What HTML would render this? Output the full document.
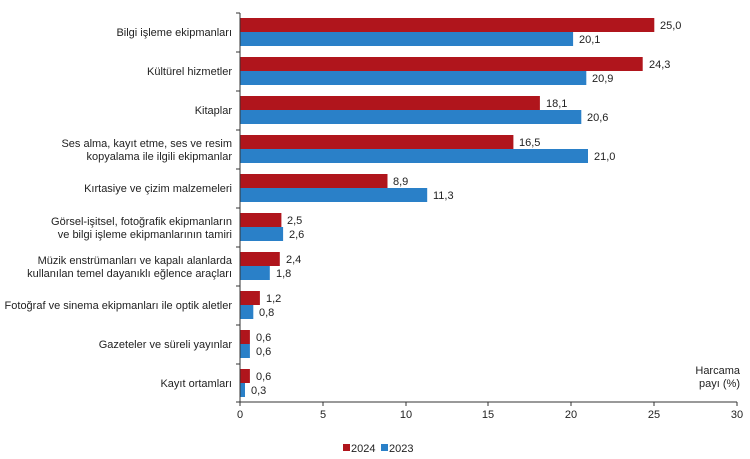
<!DOCTYPE html>
<html><head><meta charset="utf-8"><style>
body{margin:0;background:#fff;}
svg{display:block;font-family:"Liberation Sans",Arial,sans-serif;font-size:11px;fill:#222;}
</style></head><body>
<svg width="750" height="459" viewBox="0 0 750 459">
<g>
<rect x="240" y="18" width="414.3" height="14" fill="#B0151C"/><text x="660" y="29">25,0</text>
<rect x="240" y="32" width="333.1" height="14" fill="#2A80C8"/><text x="579" y="43">20,1</text>
<rect x="240" y="57" width="402.7" height="14" fill="#B0151C"/><text x="649" y="68">24,3</text>
<rect x="240" y="71" width="346.3" height="14" fill="#2A80C8"/><text x="592" y="82">20,9</text>
<rect x="240" y="96" width="299.9" height="14" fill="#B0151C"/><text x="546" y="107">18,1</text>
<rect x="240" y="110" width="341.3" height="14" fill="#2A80C8"/><text x="587" y="121">20,6</text>
<rect x="240" y="135" width="273.4" height="14" fill="#B0151C"/><text x="519" y="146">16,5</text>
<rect x="240" y="149" width="348" height="14" fill="#2A80C8"/><text x="594" y="160">21,0</text>
<rect x="240" y="174" width="147.5" height="14" fill="#B0151C"/><text x="393" y="185">8,9</text>
<rect x="240" y="188" width="187.2" height="14" fill="#2A80C8"/><text x="433" y="199">11,3</text>
<rect x="240" y="213" width="41.4" height="14" fill="#B0151C"/><text x="287" y="224">2,5</text>
<rect x="240" y="227" width="43.1" height="14" fill="#2A80C8"/><text x="289" y="238">2,6</text>
<rect x="240" y="252" width="39.8" height="14" fill="#B0151C"/><text x="286" y="263">2,4</text>
<rect x="240" y="266" width="29.8" height="14" fill="#2A80C8"/><text x="276" y="277">1,8</text>
<rect x="240" y="291" width="19.9" height="14" fill="#B0151C"/><text x="266" y="302">1,2</text>
<rect x="240" y="305" width="13.3" height="14" fill="#2A80C8"/><text x="259" y="316">0,8</text>
<rect x="240" y="330" width="9.9" height="14" fill="#B0151C"/><text x="256" y="341">0,6</text>
<rect x="240" y="344" width="9.9" height="14" fill="#2A80C8"/><text x="256" y="355">0,6</text>
<rect x="240" y="369" width="9.9" height="14" fill="#B0151C"/><text x="256" y="380">0,6</text>
<rect x="240" y="383" width="5" height="14" fill="#2A80C8"/><text x="251" y="394">0,3</text>
</g>
<line x1="240" y1="13" x2="240" y2="402" stroke="#333" stroke-width="1"/>
<line x1="240" y1="402" x2="737" y2="402" stroke="#333" stroke-width="1"/>
<g stroke="#333">
<line x1="236" y1="13" x2="240" y2="13"/><line x1="236" y1="52" x2="240" y2="52"/><line x1="236" y1="91" x2="240" y2="91"/><line x1="236" y1="130" x2="240" y2="130"/><line x1="236" y1="169" x2="240" y2="169"/><line x1="236" y1="208" x2="240" y2="208"/><line x1="236" y1="247" x2="240" y2="247"/><line x1="236" y1="286" x2="240" y2="286"/><line x1="236" y1="325" x2="240" y2="325"/><line x1="236" y1="364" x2="240" y2="364"/><line x1="236" y1="402" x2="240" y2="402"/>
<line x1="240" y1="402" x2="240" y2="406"/><line x1="323" y1="402" x2="323" y2="406"/><line x1="406" y1="402" x2="406" y2="406"/><line x1="488" y1="402" x2="488" y2="406"/><line x1="571" y1="402" x2="571" y2="406"/><line x1="654" y1="402" x2="654" y2="406"/><line x1="737" y1="402" x2="737" y2="406"/>
</g>
<g text-anchor="middle">
<text x="240" y="418">0</text><text x="323" y="418">5</text><text x="406" y="418">10</text><text x="488" y="418">15</text><text x="571" y="418">20</text><text x="654" y="418">25</text><text x="737" y="418">30</text>
</g>
<g text-anchor="end">
<text x="740" y="374">Harcama</text><text x="740" y="387">payı (%)</text>
<text x="232" y="36">Bilgi işleme ekipmanları</text>
<text x="232" y="75">Kültürel hizmetler</text>
<text x="232" y="114">Kitaplar</text>
<text x="232" y="147">Ses alma, kayıt etme, ses ve resim</text>
<text x="232" y="160">kopyalama ile ilgili ekipmanlar</text>
<text x="232" y="192">Kırtasiye ve çizim malzemeleri</text>
<text x="232" y="225">Görsel-işitsel, fotoğrafik ekipmanların</text>
<text x="232" y="238">ve bilgi işleme ekipmanlarının tamiri</text>
<text x="232" y="264">Müzik enstrümanları ve kapalı alanlarda</text>
<text x="232" y="277">kullanılan temel dayanıklı eğlence araçları</text>
<text x="232" y="309">Fotoğraf ve sinema ekipmanları ile optik aletler</text>
<text x="232" y="348">Gazeteler ve süreli yayınlar</text>
<text x="232" y="387">Kayıt ortamları</text>
</g>
<rect x="343" y="444" width="7" height="7" fill="#B0151C"/><text x="351" y="452">2024</text>
<rect x="381" y="444" width="7" height="7" fill="#2A80C8"/><text x="389" y="452">2023</text>
</svg>
</body></html>
